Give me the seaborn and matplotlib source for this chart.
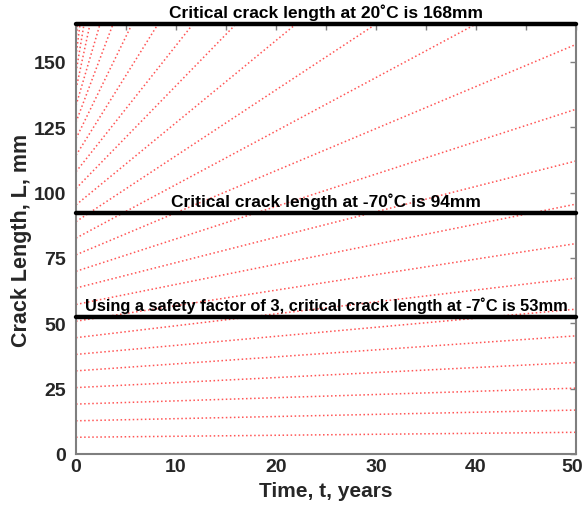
import numpy as np
import pandas as pd
import matplotlib
matplotlib.use("Agg")
import matplotlib.pyplot as plt
import matplotlib.transforms as mtrans
import seaborn as sns
from matplotlib.ticker import MultipleLocator

# ---- data ----
initial_length_mm = [6.4, 12.7, 19.1, 25.4, 31.8, 38.1, 44.5, 50.8, 57.2, 63.5,
                     69.9, 76.2, 82.6, 88.9, 95.3, 101.6, 108.0, 114.3, 120.7,
                     127.0, 133.4, 139.7, 146.1, 152.4, 158.8]
end_year = [50, 50, 50, 50, 50, 50, 50, 50, 50, 50, 50, 50,
            40, 30, 22, 16, 11.7, 8.2, 5.6, 3.7, 2.4, 1.4, 0.8, 0.4, 0.15]
end_length_mm = [8.3, 16.8, 25.2, 35.0, 45.2, 55.4, 67.3, 80.5, 95.6, 112.1,
                 131.9, 156.7, 164.5, 164.5, 164.5, 164.5, 164.5, 164.5, 164.5,
                 164.5, 164.5, 164.5, 164.5, 164.5, 164.5]

critical_levels = [164.5, 92.3, 52.5]
critical_labels = ["Critical crack length at 20\u02daC is 168mm",
                   "Critical crack length at -70\u02daC is 94mm",
                   "Using a safety factor of 3, critical crack length at -7\u02daC is 53mm"]
label_sizes = [12.5, 12.5, 11.8]

x_ticks = [0, 10, 20, 30, 40, 50]
y_ticks = [0, 25, 50, 75, 100, 125, 150]

rows = []
for i, (a0, te, ae) in enumerate(zip(initial_length_mm, end_year, end_length_mm)):
    rows.append({"curve": i, "t": 0.0, "L": a0})
    rows.append({"curve": i, "t": te, "L": ae})
df = pd.DataFrame(rows)

sns.set_style("white")
plt.rcParams["font.family"] = ["Liberation Sans", "DejaVu Sans"]

fig = plt.figure(figsize=(5.85, 5.06), dpi=100)
ax = fig.add_axes([0.130, 0.1008, 0.8547, 0.8498])

sns.lineplot(data=df, x="t", y="L", units="curve", estimator=None,
             color="#ff2a2a", linestyle=":", linewidth=1.1, alpha=0.8,
             ax=ax, legend=False, sort=False)

for lvl, lab, fs in zip(critical_levels, critical_labels, label_sizes):
    ax.axhline(lvl, color="black", linewidth=3.2, clip_on=False, zorder=5)
    ax.text(25, lvl + 1.6, lab, ha="center", va="bottom", fontsize=fs,
            fontweight="bold", color="black", clip_on=False, zorder=6)

ax.set_xlim(0, 50)
ax.set_ylim(0, 164.5)
ax.set_xticks(x_ticks)
ax.set_yticks(y_ticks)
ax.xaxis.set_minor_locator(MultipleLocator(5))
ax.tick_params(axis="both", which="both", direction="in", length=4.5, width=1,
               color="#7f7f7f", top=True, right=True, labelsize=14)
ax.tick_params(axis="y", pad=7)
ax.tick_params(axis="x", pad=3)
for lab in ax.get_xticklabels() + ax.get_yticklabels():
    lab.set_fontweight("bold")

# keep the last x tick label inside the canvas
last = ax.get_xticklabels()[-1]
last.set_transform(last.get_transform() +
                   mtrans.ScaledTranslation(-4 / 100, 0, fig.dpi_scale_trans))

for sp in ax.spines.values():
    sp.set_color("#7f7f7f")
    sp.set_linewidth(1.5)

ax.set_xlabel("Time, t, years", fontsize=15, fontweight="bold", labelpad=4)
ax.set_ylabel("Crack Length, L, mm", fontsize=15.5, fontweight="bold", labelpad=1)

fig.savefig("out.png", dpi=100)
